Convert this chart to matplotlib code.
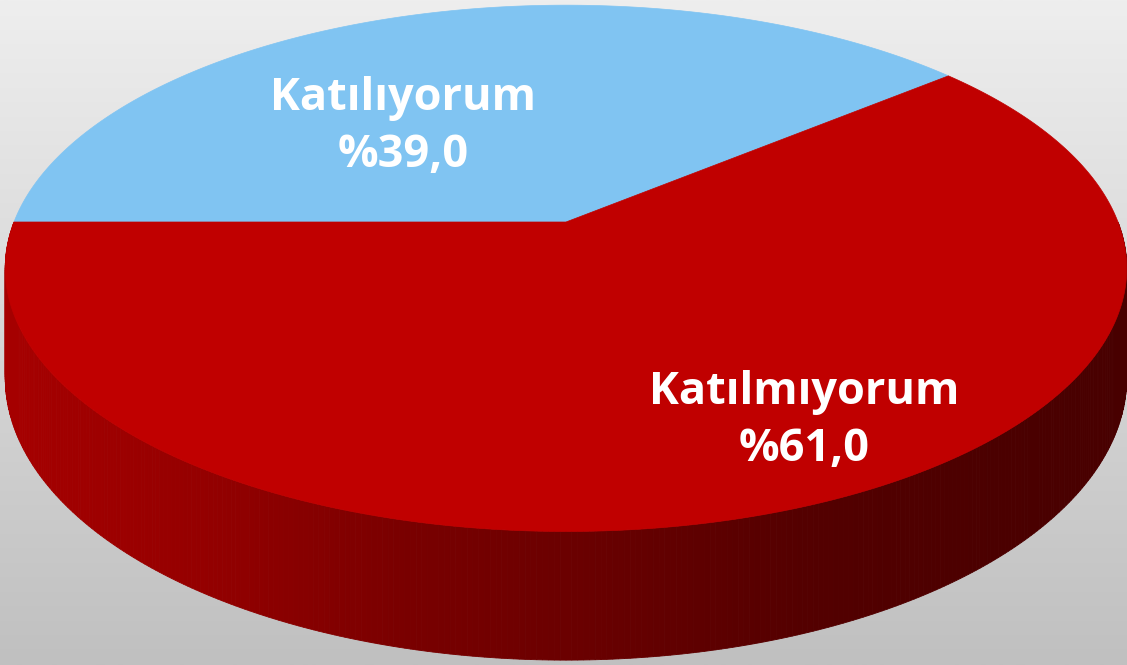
import numpy as np
import matplotlib
matplotlib.use('Agg')
import matplotlib.pyplot as plt
from matplotlib.patches import Polygon

labels = ['Katılıyorum', 'Katılmıyorum']
values = [39.0, 61.0]
top_colors = ['#80C4F2', '#C00000']
label_pos = [(403, 127), (804, 421)]

# side shading, sampled along x (pixel) from the reference
side_x = [0, 20, 200, 400, 600, 800, 1000, 1127]
side_r = [0xA6, 0xA5, 0x95, 0x7A, 0x68, 0x54, 0x4B, 0x48]

W, H = 1127, 665
cx, cy = 566, 222
A, B, k = 552, 255, 0.176
depth = 106


def proj(theta, drop=0.0):
    X = np.cos(theta)
    Y = np.sin(theta)
    w = 1 + k * Y
    return cx + A * X / w, cy - B * Y / w + drop / w


fig = plt.figure(figsize=(W / 100, H / 100), dpi=100)
ax = fig.add_axes([0, 0, 1, 1])
ax.set_xlim(0, W)
ax.set_ylim(H, 0)
ax.axis('off')

# background gradient
grad = np.linspace(0xEE, 0xC0, 256) / 255.0
bg = np.dstack([grad, grad, grad]).reshape(256, 1, 3)
ax.imshow(bg, extent=(0, W, H, 0), aspect='auto', zorder=0)

# front side of the disc
th = np.linspace(np.pi, 2 * np.pi, 361)
for t0, t1 in zip(th[:-1], th[1:]):
    x0, y0 = proj(t0)
    x1, y1 = proj(t1)
    bx0, by0 = proj(t0, depth)
    bx1, by1 = proj(t1, depth)
    r = np.interp((x0 + x1) / 2, side_x, side_r) / 255.0
    c = (r, 0, 0)
    ax.add_patch(Polygon([(x0, y0), (x1, y1), (bx1, by1), (bx0, by0)],
                         closed=True, facecolor=c, edgecolor=c, lw=0.6, zorder=1))

# top face slices, starting at the left, going clockwise
start = np.pi
for val, col in zip(values, top_colors):
    span = val / sum(values) * 2 * np.pi
    arc = np.linspace(start, start - span, 300)
    xs, ys = proj(arc)
    pts = [(cx, cy)] + list(zip(xs, ys))
    ax.add_patch(Polygon(pts, closed=True, facecolor=col, edgecolor=col, lw=0.5, zorder=2))
    start -= span

for lab, val, (lx, ly) in zip(labels, values, label_pos):
    txt = lab + '\n%' + ('%.1f' % val).replace('.', ',')
    ax.text(lx, ly, txt, color='white', fontsize=32.5, fontweight='bold',
            family='Open Sans', ha='center', va='center', linespacing=1.33, zorder=3)

fig.savefig('out.png', dpi=100)
